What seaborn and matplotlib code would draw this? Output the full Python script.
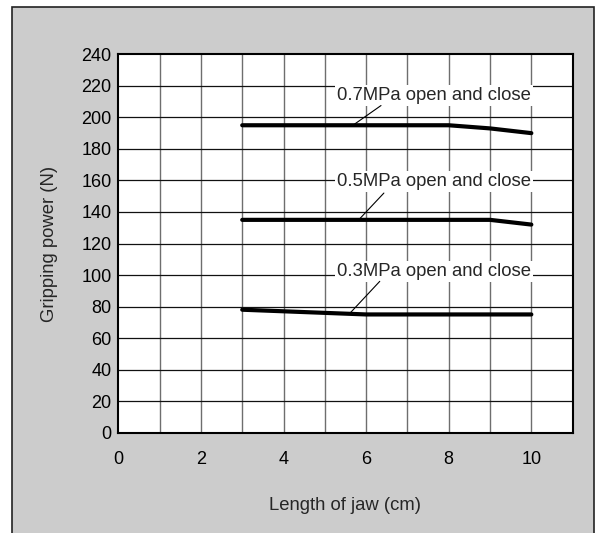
import pandas as pd
import matplotlib.pyplot as plt
import matplotlib.patches as mpatches
import seaborn as sns

# Curve data
jaw_07 = [3, 8, 9, 10]
force_07 = [195, 195, 193, 190]
jaw_05 = [3, 9, 10]
force_05 = [135, 135, 132]
jaw_03 = [3, 6, 10]
force_03 = [78, 75, 75]

labels = ["0.7MPa open and close", "0.5MPa open and close", "0.3MPa open and close"]
label_y = [210.8, 156.3, 99.3]
leader_start = [(6.36, 207.5), (6.43, 152), (6.33, 96)]
leader_end = [(5.68, 195), (5.82, 135), (5.58, 75)]

x_ticks = [0, 2, 4, 6, 8, 10]
y_ticks = list(range(0, 241, 20))

df = pd.concat([
    pd.DataFrame({"jaw": jaw_07, "force": force_07, "series": labels[0]}),
    pd.DataFrame({"jaw": jaw_05, "force": force_05, "series": labels[1]}),
    pd.DataFrame({"jaw": jaw_03, "force": force_03, "series": labels[2]}),
])

sns.set_style("white")
plt.rcParams["font.family"] = ["Liberation Sans", "DejaVu Sans"]

fig = plt.figure(figsize=(6, 5.33), dpi=100, facecolor="white")

# gray panel with dark frame (open at the bottom edge)
fig.patches.append(mpatches.Rectangle((12 / 600, -0.05), 582 / 600, 1 - 7 / 533 + 0.05,
                                      transform=fig.transFigure, facecolor="#cccccc",
                                      edgecolor="#222222", linewidth=1.2, zorder=-5))

ax = fig.add_axes([0.1972, 0.1882, 0.7572, 0.7099])
ax.set_facecolor("white")

# grid
for xv in range(1, 11):
    ax.axvline(xv, color="#6e6e6e", lw=1.0, zorder=1)
for yv in range(20, 240, 20):
    ax.axhline(yv, color="#111111", lw=0.9, zorder=1)

sns.lineplot(data=df, x="jaw", y="force", units="series", estimator=None,
             color="black", lw=3, sort=False, ax=ax, zorder=3)

for lab, ly, (x0, y0), (x1, y1) in zip(labels, label_y, leader_start, leader_end):
    ax.text(7.64, ly, lab, ha="center", va="baseline", fontsize=13.3, zorder=4,
            bbox=dict(facecolor="white", edgecolor="none", pad=1.5))
    ax.plot([x0, x1], [y0, y1], color="black", lw=0.8, zorder=4)

ax.set_xlim(0, 11)
ax.set_ylim(0, 240)
ax.set_xticks(x_ticks)
ax.set_yticks(y_ticks)
ax.tick_params(length=0, labelsize=13, colors="black")
ax.tick_params(axis="x", pad=13)
ax.tick_params(axis="y", pad=5)
for s in ax.spines.values():
    s.set_color("black")
    s.set_linewidth(1.5)
    s.set_visible(True)

ax.set_xlabel("Length of jaw (cm)", fontsize=13.3, labelpad=21)
ax.set_ylabel("Gripping power (N)", fontsize=13.3, labelpad=17)

fig.savefig("out.png", dpi=100, facecolor=fig.get_facecolor())
